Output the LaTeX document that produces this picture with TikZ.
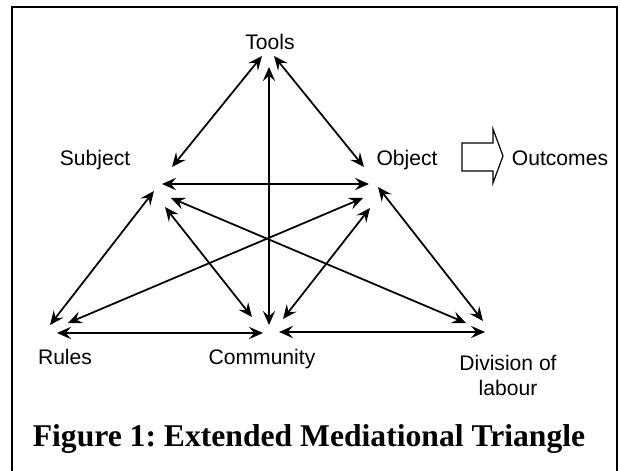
\documentclass[tikz,border=0pt]{standalone}
\usepackage{fontspec}
\setmainfont{Liberation Sans}
\newfontfamily\captionfont{Liberation Serif}
\usetikzlibrary{arrows.meta}

\begin{document}
\begin{tikzpicture}[
    vertex/.style={font=\fontsize{12}{14.2}\selectfont, anchor=base, inner sep=0pt},
    twoway/.style={line width=1pt, {Stealth[length=8pt,width=7pt,inset=3pt]}-{Stealth[length=8pt,width=7pt,inset=3pt]}}
  ]
  %%%%% START %%%%%
  \useasboundingbox (0,0) rectangle (12.4,9.4);
  \draw[line width=1.1pt] (0.24,-0.5) -- (0.24,9.26) -- (12.34,9.26) -- (12.34,-0.5);

  % labels
  \node[vertex] (tools) at (5.40, 8.42) {Tools};
  \node[vertex] (subject) at (1.90, 6.08) {Subject};
  \node[vertex] (object) at (8.14, 6.08) {Object};
  \node[vertex] (outcomes) at (11.20, 6.08) {Outcomes};
  \node[vertex] (rules) at (1.30, 2.12) {Rules};
  \node[vertex] (community) at (5.24, 2.12) {Community};
  \node[vertex, align=center] (division) at (10.16, 1.50) {Division of\\labour};

  % arrow ends
  \coordinate (t-s) at (5.24, 8.28);  \coordinate (s-t) at (3.44, 6.06);
  \coordinate (t-o) at (5.48, 8.28);  \coordinate (o-t) at (7.28, 6.06);
  \coordinate (t-c) at (5.38, 8.06);  \coordinate (c-t) at (5.38, 2.90);
  \coordinate (s-o) at (3.24, 5.72);  \coordinate (o-s) at (7.38, 5.72);
  \coordinate (s-r) at (3.08, 5.58);  \coordinate (r-s) at (1.00, 2.90);
  \coordinate (s-d) at (3.42, 5.44);  \coordinate (d-s) at (9.32, 2.94);
  \coordinate (s-c) at (3.30, 5.26);  \coordinate (c-s) at (5.04, 3.06);
  \coordinate (o-r) at (7.26, 5.44);  \coordinate (r-o) at (1.36, 2.94);
  \coordinate (o-c) at (7.40, 5.24);  \coordinate (c-o) at (5.66, 3.02);
  \coordinate (o-d) at (7.56, 5.66);  \coordinate (d-o) at (9.66, 2.98);
  \coordinate (r-c) at (1.14, 2.74);  \coordinate (c-r) at (5.26, 2.74);
  \coordinate (c-d) at (5.58, 2.76);  \coordinate (d-c) at (9.70, 2.76);

  \draw[twoway] (t-s) -- (s-t);
  \draw[twoway] (t-o) -- (o-t);
  \draw[twoway] (t-c) -- (c-t);
  \draw[twoway] (s-o) -- (o-s);
  \draw[twoway] (s-r) -- (r-s);
  \draw[twoway] (s-d) -- (d-s);
  \draw[twoway] (s-c) -- (c-s);
  \draw[twoway] (o-r) -- (r-o);
  \draw[twoway] (o-c) -- (c-o);
  \draw[twoway] (o-d) -- (d-o);
  \draw[twoway] (r-c) -- (c-r);
  \draw[twoway] (c-d) -- (d-c);

  % block arrow to outcomes
  \draw[line width=0.7pt] (9.24,6.54) -- (9.86,6.54) -- (9.86,6.82) -- (10.06,6.28)
    -- (9.86,5.74) -- (9.86,5.98) -- (9.24,5.98) -- cycle;

  \node[anchor=base, inner sep=0pt, font=\captionfont\bfseries\fontsize{18}{22}\selectfont] (caption) at (6.18, 0.48) {\frenchspacing Figure 1: Extended Mediational Triangle};
  %%%%% END %%%%%
\end{tikzpicture}
\end{document}
